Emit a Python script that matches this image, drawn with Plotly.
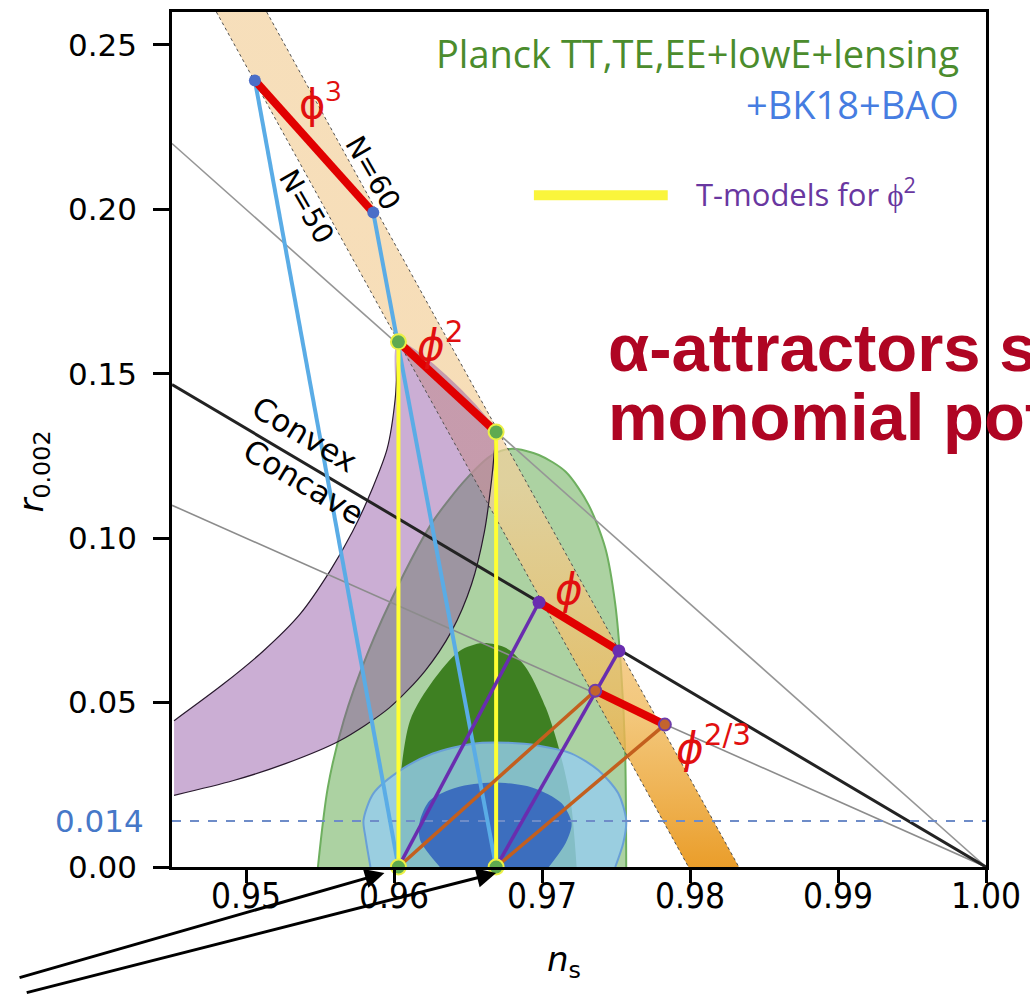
import plotly.graph_objects as go

# ---------------- data (n_s, r) ----------------
# N = 50 / N = 60 edges of the monomial band
band_n50_ns = [0.9480, 0.9799]
band_n50_r = [0.26, 0.0]
band_n60_ns = [0.9514, 0.9833]
band_n60_r = [0.26, 0.0]

# reference lines through (1, 0)
upper_gray_ns = [0.945, 1.0]
upper_gray_r = [0.220, 0.0]
convex_ns = [0.945, 1.0]
convex_r = [0.1467, 0.0]
lower_gray_ns = [0.945, 1.0]
lower_gray_r = [0.110, 0.0]

# monomial predictions (N=50, N=60)
phi3_ns = [0.9506, 0.9586]
phi3_r = [0.2392, 0.1990]
phi2_ns = [0.9603, 0.9669]
phi2_r = [0.1597, 0.1323]
phi1_ns = [0.9698, 0.9752]
phi1_r = [0.0805, 0.0657]
phi23_ns = [0.9736, 0.9783]
phi23_r = [0.0536, 0.0433]

# attractor end points at r = 0
attr_ns = [0.9603, 0.9669]
attr_r = [0.0, 0.0]

# Planck TT,TE,EE+lowE+lensing 95% region
planck95_ns = [0.95486, 0.95553, 0.95660, 0.95820, 0.96042, 0.96263, 0.96490, 0.96664,
               0.96798, 0.96979, 0.97160, 0.97314, 0.97428, 0.97495, 0.97535, 0.97562, 0.97569]
planck95_r = [0.0, 0.0242, 0.0445, 0.0648, 0.0869, 0.1051, 0.1181, 0.1253,
              0.1272, 0.1253, 0.1202, 0.1102, 0.0969, 0.0799, 0.0596, 0.0345, 0.0]
# 68% region
planck68_ns = [0.96008, 0.96028, 0.96108, 0.96263, 0.96443, 0.96597, 0.96758,
               0.96892, 0.97026, 0.97113, 0.97193, 0.97234]
planck68_r = [0.0, 0.0203, 0.0445, 0.0566, 0.0657, 0.0681, 0.0666,
              0.0606, 0.0484, 0.0363, 0.0203, 0.0]

# +BK18+BAO 95% region
bk95_ns = [0.95841, 0.95807, 0.95794, 0.95861, 0.96042, 0.96263, 0.96531, 0.96758,
           0.96979, 0.97200, 0.97381, 0.97515, 0.97569, 0.97549, 0.97495]
bk95_r = [0.0, 0.0091, 0.0142, 0.0224, 0.0294, 0.0345, 0.0375, 0.0378,
          0.0369, 0.0345, 0.0294, 0.0224, 0.0142, 0.0073, 0.0]
# 68% region
bk68_ns = [0.96310, 0.96176, 0.96176, 0.96243, 0.96423, 0.96664, 0.96932,
           0.97133, 0.97200, 0.97160, 0.97046]
bk68_r = [0.0, 0.0082, 0.0142, 0.0203, 0.0242, 0.0257, 0.0242,
          0.0194, 0.0133, 0.0073, 0.0]

# T-model region edges (left edge runs up to the N=50 phi^2 point,
# right edge runs down from the N=60 phi^2 point)
tregion_outer_ns = [0.94514, 0.94849, 0.95117, 0.95365, 0.95566, 0.95720,
                    0.95854, 0.95954, 0.96008, 0.9603]
tregion_outer_r = [0.0445, 0.0557, 0.0657, 0.0769, 0.0899, 0.1020,
                   0.1151, 0.1272, 0.1423, 0.1597]
tregion_inner_ns = [0.9669, 0.96658, 0.96611, 0.96524, 0.96390, 0.96209,
                    0.95968, 0.95633, 0.95271, 0.94916, 0.94514]
tregion_inner_r = [0.1323, 0.1172, 0.1020, 0.0860, 0.0718, 0.0596,
                   0.0484, 0.0384, 0.0315, 0.0263, 0.0218]

r_bound = 0.014

x_ticks = [0.95, 0.96, 0.97, 0.98, 0.99, 1.00]
x_ticktext = ["0.95", "0.96", "0.97", "0.98", "0.99", "1.00"]
y_ticks = [0.00, 0.05, 0.10, 0.15, 0.20, 0.25]
y_ticktext = ["0.00", "0.05", "0.10", "0.15", "0.20", "0.25"]

X_RANGE = [0.945, 1.0]
Y_RANGE = [0.0, 0.26]

fig = go.Figure()


def area(xs, ys, fill, edge=None, width=0, smooth=False, **kw):
    shape = dict(shape="spline", smoothing=0.8) if smooth else {}
    fig.add_trace(go.Scatter(
        x=xs, y=ys, mode="lines", fill="toself", fillcolor=fill,
        line=dict(color=edge if edge else "rgba(0,0,0,0)", width=width, **shape),
        hoverinfo="skip", showlegend=False, **kw))


def line(xs, ys, color, width, dash="solid", smooth=False, **kw):
    shape = dict(shape="spline", smoothing=0.8) if smooth else {}
    fig.add_trace(go.Scatter(
        x=xs, y=ys, mode="lines", line=dict(color=color, width=width, dash=dash, **shape),
        hoverinfo="skip", showlegend=False, **kw))


# Planck contours
area(planck95_ns, planck95_r, "rgba(90,165,70,0.5)", "rgb(110,175,95)", 2, smooth=True)
area(planck68_ns, planck68_r, "rgb(62,128,34)", smooth=True)
# BK18 + BAO contours
area(bk95_ns, bk95_r, "rgba(150,205,240,0.8)", "rgb(105,160,215)", 2, smooth=True)
area(bk68_ns, bk68_r, "rgb(60,110,190)", smooth=True)

# monomial band between N=50 and N=60, shaded by height
fig.add_trace(go.Scatter(
    x=band_n50_ns + band_n60_ns[::-1], y=band_n50_r + band_n60_r[::-1],
    mode="lines", fill="toself",
    line=dict(color="rgba(0,0,0,0)", width=0),
    fillgradient=dict(
        type="vertical", start=0.0, stop=0.26,
        colorscale=[[0.0, "rgba(232,148,22,0.92)"],
                     [0.18, "rgba(240,185,90,0.8)"],
                     [0.45, "rgba(243,208,155,0.72)"],
                     [1.0, "rgba(243,210,160,0.72)"]]),
    hoverinfo="skip", showlegend=False))

# T-model region: fill plus the two curved edges
area(tregion_outer_ns + tregion_inner_ns, tregion_outer_r + tregion_inner_r,
     "rgba(140,75,160,0.45)", smooth=True)
line(tregion_outer_ns, tregion_outer_r, "rgb(40,25,45)", 1.2, smooth=True)
line(tregion_inner_ns, tregion_inner_r, "rgb(40,25,45)", 1.2, smooth=True)

# band edges
line(band_n50_ns, band_n50_r, "rgb(80,80,80)", 1, "dot")
line(band_n60_ns, band_n60_r, "rgb(80,80,80)", 1, "dot")

# straight reference lines
line(upper_gray_ns, upper_gray_r, "rgb(150,150,150)", 1.6)
line(lower_gray_ns, lower_gray_r, "rgb(140,140,140)", 1.6)
line(convex_ns, convex_r, "rgb(35,35,35)", 3)

# r = 0.014 bound
line(list(X_RANGE), [r_bound, r_bound], "rgb(110,140,200)", 2, "dash")

# attractor trajectories
for i in range(2):
    line([phi3_ns[i], attr_ns[i]], [phi3_r[i], attr_r[i]], "rgb(90,172,230)", 4)
for i in range(2):
    line([phi2_ns[i], attr_ns[i]], [phi2_r[i], attr_r[i]], "rgb(255,255,50)", 4, cliponaxis=False)
for i in range(2):
    line([phi1_ns[i], attr_ns[i]], [phi1_r[i], attr_r[i]], "rgb(105,45,175)", 3.5)
for i in range(2):
    line([phi23_ns[i], attr_ns[i]], [phi23_r[i], attr_r[i]], "rgb(195,95,30)", 3.5)

# monomial segments
for xs, ys in [(phi3_ns, phi3_r), (phi2_ns, phi2_r), (phi1_ns, phi1_r), (phi23_ns, phi23_r)]:
    line(xs, ys, "rgb(225,0,0)", 8)


def dots(xs, ys, color, size, edge, ew):
    fig.add_trace(go.Scatter(
        x=xs, y=ys, mode="markers",
        marker=dict(color=color, size=size, line=dict(color=edge, width=ew)),
        hoverinfo="skip", showlegend=False, cliponaxis=False))


dots(phi3_ns, phi3_r, "rgb(75,110,200)", 12, "rgb(75,110,200)", 0)
dots(phi2_ns, phi2_r, "rgb(95,170,80)", 15, "rgb(235,240,70)", 2)
dots(phi1_ns, phi1_r, "rgb(105,45,175)", 13, "rgb(105,45,175)", 0)
dots(phi23_ns, phi23_r, "rgb(195,100,45)", 12, "rgb(110,60,170)", 2)
dots(attr_ns, attr_r, "rgb(95,170,80)", 15, "rgb(235,240,70)", 2)

# ---------------- text ----------------
RED = "rgb(225,15,15)"
ann = []


def txt(x, y, text, size, color, family="DejaVu Sans", angle=0, xref="x", yref="y",
        xanchor="center", yanchor="middle"):
    ann.append(dict(x=x, y=y, xref=xref, yref=yref, text=text, showarrow=False,
                    textangle=angle, xanchor=xanchor, yanchor=yanchor,
                    font=dict(size=size, color=color, family=family)))


txt(0.95500, 0.2330, "ϕ<sup>3</sup>", 40, RED, "Open Sans, DejaVu Sans")
txt(0.96309, 0.1596, "<i>ϕ</i><sup>2</sup>", 42, RED)
txt(0.97180, 0.0845, "<i>ϕ</i>", 42, RED)
txt(0.98160, 0.0370, "<i>ϕ</i><sup>2/3</sup>", 42, RED)

txt(0.95392, 0.1316, "Convex", 31, "black", angle=31)
txt(0.95392, 0.1172, "Concave", 31, "black", angle=31)
txt(0.95860, 0.2110, "N=60", 28, "black", angle=60)
txt(0.95410, 0.2010, "N=50", 28, "black", angle=60)

PX0, PY0, PW, PH = 172, 9, 821, 858


def px(xp):
    return (xp - PX0) / PW


def py(yp):
    return (PY0 + PH - yp) / PH


txt(px(968), py(50), "Planck TT,TE,EE+lowE+lensing", 38, "rgb(75,140,45)",
    "Open Sans", xref="paper", yref="paper", xanchor="right")
txt(px(968), py(101), "+BK18+BAO", 38, "rgb(70,125,225)",
    "Open Sans", xref="paper", yref="paper", xanchor="right")
txt(px(698), py(190), "T-models for ϕ<sup>2</sup>", 31, "rgb(105,55,160)",
    "Open Sans", xref="paper", yref="paper", xanchor="left")

txt(px(610), py(346), "<b>α-attractors save</b>", 67, "rgb(175,5,35)",
    "Liberation Sans, Arial", xref="paper", yref="paper", xanchor="left")
txt(px(610), py(415), "<b>monomial potentials</b>", 67, "rgb(175,5,35)",
    "Liberation Sans, Arial", xref="paper", yref="paper", xanchor="left")

txt(px(146), r_bound, "0.014", 31, "rgb(70,120,200)", xref="paper", yref="y",
    xanchor="right")

txt(px(567), py(962), "<i>n</i><sub>s</sub>", 34, "black",
    xref="paper", yref="paper")
txt(px(32), py(470), "<i>r</i><sub>0.002</sub>", 34, "black",
    xref="paper", yref="paper", angle=-90)

# arrows pointing at the attractor end points
for xv, shift, tail in [(attr_ns[0], -14, (20, 978)), (attr_ns[1], 0, (28, 993))]:
    head_px = PX0 + (xv - X_RANGE[0]) / (X_RANGE[1] - X_RANGE[0]) * PW + shift
    head_py = PY0 + PH + 6
    ann.append(dict(x=xv, y=0.0, xref="x", yref="y", text="", showarrow=True,
                    xshift=shift, yshift=-6,
                    ax=tail[0] - head_px, ay=tail[1] - head_py,
                    arrowhead=2, arrowsize=1.3, arrowwidth=3, arrowcolor="black",
                    standoff=0, startstandoff=0))

fig.update_layout(
    width=1030, height=996,
    margin=dict(l=PX0, r=1030 - PX0 - PW, t=PY0, b=996 - PY0 - PH),
    paper_bgcolor="white", plot_bgcolor="white",
    annotations=ann,
    shapes=[dict(type="line", xref="paper", yref="paper",
                 x0=px(537), x1=px(672), y0=py(193), y1=py(193),
                 line=dict(color="rgb(250,245,60)", width=10))],
    xaxis=dict(range=X_RANGE, tickvals=x_ticks, ticktext=x_ticktext,
               showgrid=False, zeroline=False, showline=True, mirror=True,
               linecolor="black", linewidth=2.5, ticks="outside", ticklen=13,
               tickwidth=2.5, tickcolor="black", ticklabelstandoff=-17,
               tickfont=dict(family="Liberation Sans Narrow, DejaVu Sans Condensed, Liberation Sans",
                             size=35, color="black")),
    yaxis=dict(range=Y_RANGE, tickvals=y_ticks, ticktext=y_ticktext,
               showgrid=False, zeroline=False, showline=True, mirror=True,
               linecolor="black", linewidth=2.5, ticks="outside", ticklen=16,
               tickwidth=2.5, tickcolor="black", ticklabelstandoff=10,
               tickfont=dict(family="DejaVu Sans", size=31, color="black")),
)

fig.write_html("out.html")
